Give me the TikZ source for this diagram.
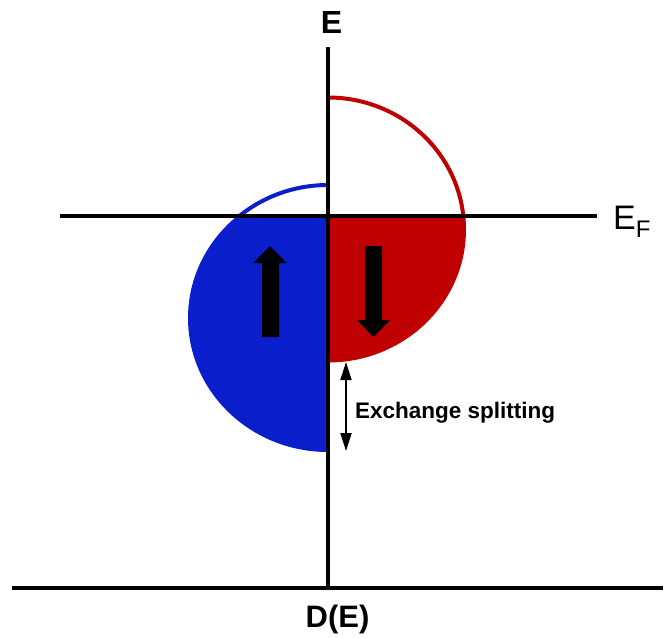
\documentclass[tikz,border=0pt]{standalone}
\usepackage{fontspec}
\setmainfont{Liberation Sans}
\usetikzlibrary{arrows.meta}
\definecolor{dosblue}{RGB}{10,30,204}
\definecolor{dosred}{RGB}{192,0,0}
\tikzset{
  axisline/.style={line width=4.5pt},
  lbl/.style={inner sep=0pt, anchor=base},
  bigarrow/.style={fill=black, draw=none},
  splitarrow/.style={line width=1.8pt, {Triangle[length=18pt,width=11pt]}-{Triangle[length=18pt,width=11pt]}}
}
\begin{document}
\begin{tikzpicture}[x=1pt,y=-1pt]
\useasboundingbox (0,0) rectangle (665,638);
% blue (spin up) DOS
\begin{scope}
  \clip (0,216) rectangle (328,638);
  \fill[dosblue] (328,318) ellipse [x radius=140, y radius=134];
\end{scope}
\begin{scope}
  \clip (0,0) rectangle (328,216);
  \draw[dosblue, line width=4pt] (328,318) ellipse [x radius=138, y radius=133];
\end{scope}
% red (spin down) DOS
\begin{scope}
  \clip (328,216) rectangle (665,638);
  \fill[dosred] (328,229.5) ellipse [x radius=138, y radius=133];
\end{scope}
\begin{scope}
  \clip (328,0) rectangle (665,216);
  \draw[dosred, line width=4pt] (328,229.5) ellipse [x radius=136, y radius=132];
\end{scope}
% axes
\coordinate (ytop) at (328,47);
\coordinate (origin) at (328,588);
\coordinate (xleft) at (12,588);
\coordinate (xright) at (663,588);
\coordinate (fl) at (60,216);
\coordinate (fr) at (597,216);
\draw[axisline] (ytop) -- (origin);
\draw[axisline] (xleft) -- (xright);
\draw[axisline] (fl) -- (fr);
% spin arrows
\fill[bigarrow] (262,337) -- (262,263) -- (253,263) -- (270,246) -- (287,263) -- (279,263) -- (279,337) -- cycle;
\fill[bigarrow] (365,246) -- (365,320) -- (357,320) -- (373.5,337) -- (390,320) -- (382,320) -- (382,246) -- cycle;
% exchange splitting
\coordinate (exa) at (346,362);
\coordinate (exb) at (346,451);
\draw[splitarrow] (exa) -- (exb);
\node[lbl, anchor=base west, font=\bfseries\fontsize{22.5}{24}\selectfont] (exlabel) at (355,418) {Exchange splitting};
% labels
\node[lbl, font=\bfseries\fontsize{32}{34}\selectfont] (Elabel) at (331.5,33) {E};
\node[lbl, font=\bfseries\fontsize{31}{33}\selectfont] (DElabel) at (337.5,627) {D(E)};
\node[lbl, anchor=base west] (EFlabel) at (613,229) {{\fontsize{34}{36}\selectfont E}{\fontsize{24}{26}\selectfont\raisebox{-8pt}{F}}};
\end{tikzpicture}
\end{document}
